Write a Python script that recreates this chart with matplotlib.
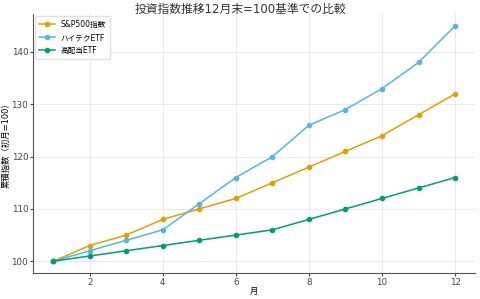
import matplotlib

matplotlib.use("Agg")
import matplotlib.pyplot as plt

# monthly index values (month 1 = 100)
months = [1, 2, 3, 4, 5, 6, 7, 8, 9, 10, 11, 12]
sp500 = [100, 103, 105, 108, 110, 112, 115, 118, 121, 124, 128, 132]
tech = [100, 102, 104, 106, 111, 116, 120, 126, 129, 133, 138, 145]
dividend = [100, 101, 102, 103, 104, 105, 106, 108, 110, 112, 114, 116]

labels = ["S&P500指数", "ハイテクETF", "高配当ETF"]
colors = ["#E69F00", "#56B4E9", "#009E73"]

title = "投資指数推移12月末=100基準での比較"
xlabel = "月"
ylabel = "累積指数（初月=100）"


def main() -> None:
    plt.rcParams["font.family"] = ["DejaVu Sans", "Noto Sans CJK JP"]

    fig = plt.figure(figsize=(4.8, 2.99), dpi=100)
    ax = fig.add_axes([0.069, 0.087, 0.921, 0.866])

    for values, label, color in zip([sp500, tech, dividend], labels, colors):
        ax.plot(months, values, color=color, marker="o", markersize=3,
                linewidth=1.1, label=label)

    fig.suptitle(title, fontsize=8.5, color="#333333", y=0.968, va="center")
    ax.set_xlabel(xlabel, fontsize=6)
    ax.set_ylabel(ylabel, fontsize=6)
    ax.xaxis.set_label_coords(0.5, -0.07)
    ax.yaxis.set_label_coords(-0.061, 0.5)
    ax.xaxis.label.set_verticalalignment("center")
    ax.yaxis.label.set_verticalalignment("center")

    ax.set_xticks([2, 4, 6, 8, 10, 12])
    ax.set_yticks([100, 110, 120, 130, 140])
    ax.tick_params(labelsize=6.3, length=2, colors="#444444", pad=1.5)
    ax.grid(True, color="#e6e6e6", linewidth=0.6)
    ax.set_axisbelow(True)

    for side in ["top", "right"]:
        ax.spines[side].set_visible(False)
    for side in ["left", "bottom"]:
        ax.spines[side].set_color("#555555")
        ax.spines[side].set_linewidth(0.8)

    ax.legend(loc="upper left", fontsize=5.5, frameon=True, framealpha=0.9,
              edgecolor="#dddddd", borderpad=0.5, labelspacing=0.5,
              handlelength=2, borderaxespad=0.3)

    fig.savefig("out.png", dpi=100)


if __name__ == "__main__":
    main()
